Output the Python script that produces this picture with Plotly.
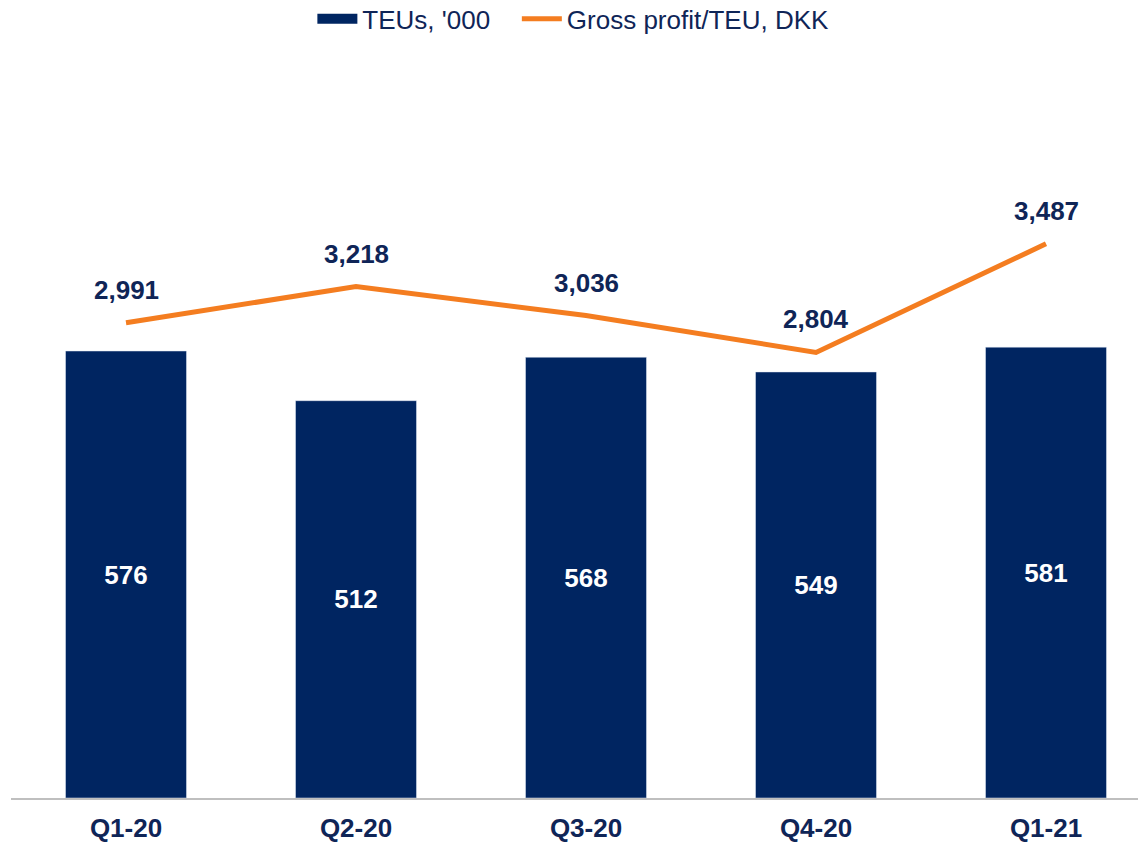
import plotly.graph_objects as go

categories = ["Q1-20", "Q2-20", "Q3-20", "Q4-20", "Q1-21"]
teus = [576, 512, 568, 549, 581]
gp_per_teu = [2991, 3218, 3036, 2804, 3487]

NAVY = "#002561"
ORANGE = "#F47D20"
TEXT = "#0F2557"
FONT = "Liberation Sans, Arial, sans-serif"

xs = list(range(len(categories)))

fig = go.Figure()
fig.add_trace(go.Bar(
    x=xs, y=teus, name="TEUs, '000", marker_color=NAVY, width=0.526,
    text=[f"<b>{v}</b>" for v in teus], textposition="inside", insidetextanchor="middle",
    textfont=dict(family=FONT, size=26, color="white"), constraintext="none",
    showlegend=False, yaxis="y",
))
# legend proxy for bars (wide swatch)
fig.add_trace(go.Scatter(
    x=[None], y=[None], mode="lines", name="TEUs, '000\u00a0\u00a0\u00a0",
    line=dict(color=NAVY, width=12), yaxis="y",
))
fig.add_trace(go.Scatter(
    x=xs, y=gp_per_teu, mode="lines", name="Gross profit/TEU, DKK",
    line=dict(color=ORANGE, width=5), yaxis="y2",
))

for x, v in zip(xs, gp_per_teu):
    fig.add_annotation(
        x=x, y=v, xref="x", yref="y2", text=f"<b>{v:,}</b>", showarrow=False,
        yshift=33, font=dict(family=FONT, size=26, color=TEXT),
    )

fig.update_layout(
    width=1138, height=842,
    margin=dict(l=11, r=0, t=60, b=44, autoexpand=False),
    plot_bgcolor="white", paper_bgcolor="white",
    font=dict(family=FONT, color=TEXT),
    legend=dict(
        orientation="h", x=0.499, xanchor="center", y=1.0556, yref="paper",
        yanchor="middle", font=dict(family=FONT, size=26, color=TEXT),
        traceorder="normal", itemwidth=40,
    ),
    xaxis=dict(
        range=[-0.5, 4.4], tickvals=xs, ticktext=[f"<b>{c}</b>" for c in categories],
        showgrid=False, zeroline=False, showline=True, linecolor="#BFBFBF", linewidth=2,
        tickfont=dict(family=FONT, size=26, color=TEXT), ticks="", ticklabelstandoff=6,
    ),
    yaxis=dict(range=[0, 951], visible=False, showgrid=False),
    yaxis2=dict(range=[0, 4644], overlaying="y", visible=False, showgrid=False),
    bargap=0.47,
)

fig.write_html("out.html", config={"displayModeBar": False},
               post_script="document.body.style.margin='0';")
